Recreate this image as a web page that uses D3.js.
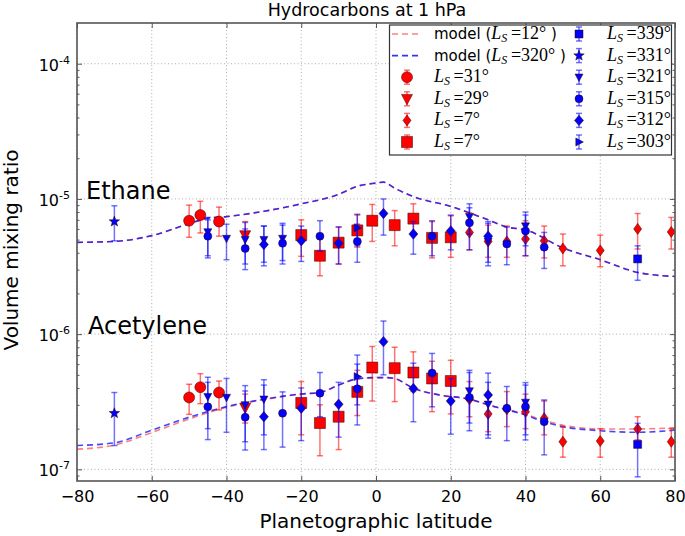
<!DOCTYPE html>
<html><head><meta charset="utf-8">
<script src="https://cdn.jsdelivr.net/npm/d3@7"></script>
<style>body{margin:0;background:#fff}svg{display:block;font-family:"DejaVu Sans",sans-serif}</style>
</head><body>
<svg id="c" width="685" height="536"></svg>
<script>
// ---------------- data ----------------
const xTicks = [-80,-60,-40,-20,0,20,40,60,80];
const yTicks = [1e-7,1e-6,1e-5,1e-4];
const yTickExp = ['-7','-6','-5','-4'];

// model curves [latitude]
const modelEthLat = [-80,-70,-60,-50,-45,-40,-30,-20,-10,-5,0,2,5,10,20,30,35,40,50,60,70,80];
const modelEthLs12 = [4.77e-6,4.85e-6,5.35e-6,6.56e-6,7.2e-6,7.4e-6,8.1e-6,9.2e-6,1.08e-5,1.24e-5,1.31e-5,1.33e-5,1.2e-5,1.04e-5,8.8e-6,7.0e-6,6.2e-6,5.9e-6,4.34e-6,3.55e-6,2.86e-6,2.67e-6];
const modelEthLs320 = [4.77e-6,4.85e-6,5.35e-6,6.56e-6,7.2e-6,7.4e-6,8.1e-6,9.2e-6,1.08e-5,1.24e-5,1.31e-5,1.33e-5,1.2e-5,1.04e-5,8.8e-6,7.0e-6,6.2e-6,5.9e-6,4.34e-6,3.55e-6,2.86e-6,2.67e-6];
const modelAceLat = [-80,-70,-60,-50,-40,-30,-20,-15,-10,-5,0,3,5,10,17,25,30,40,45,50,60,70,80];
const modelAceLs12 = [1.41e-7,1.51e-7,1.87e-7,2.36e-7,2.88e-7,3.28e-7,3.6e-7,3.7e-7,4.2e-7,4.67e-7,4.77e-7,4.77e-7,4.7e-7,3.98e-7,3.55e-7,3.3e-7,3.0e-7,2.55e-7,2.3e-7,2.12e-7,1.99e-7,1.99e-7,2.03e-7];
const modelAceLs320 = [1.5e-7,1.57e-7,1.95e-7,2.43e-7,2.91e-7,3.3e-7,3.61e-7,3.7e-7,4.2e-7,4.67e-7,4.77e-7,4.77e-7,4.7e-7,3.98e-7,3.55e-7,3.3e-7,3.0e-7,2.52e-7,2.25e-7,2.07e-7,1.93e-7,1.88e-7,1.95e-7];

// observations: [latitude, value, lower, upper]
const ls31E = [[-50,6.9e-6,5.2e-6,9.0e-6],[-47,7.6e-6,5.6e-6,9.6e-6],[-42,6.8e-6,5.3e-6,8.7e-6]];
const ls29E = [[-35,5.4e-6,4.2e-6,6.8e-6]];
const ls7dE = [[25,5.65e-6,4.2e-6,7.9e-6],[30,4.85e-6,3.7e-6,6.4e-6],[35,4.85e-6,3.7e-6,6.3e-6],[40,5.05e-6,3.8e-6,6.9e-6],[45,4.9e-6,3.66e-6,6.3e-6],[50,4.3e-6,3.2e-6,5.5e-6],[60,4.16e-6,3.15e-6,5.4e-6],[70,6.0e-6,4.26e-6,7.8e-6],[79,5.7e-6,4.26e-6,7.3e-6]];
const ls7sE = [[-20,5.4e-6,3.76e-6,7.0e-6],[-15,3.8e-6,2.7e-6,5.1e-6],[-10,4.75e-6,3.3e-6,6.2e-6],[-5,5.85e-6,4.4e-6,7.6e-6],[-1,6.9e-6,4.85e-6,9.1e-6],[5,6.4e-6,4.5e-6,8.2e-6],[10,7.15e-6,5.6e-6,9.2e-6],[15,5.15e-6,3.66e-6,6.8e-6],[20,5.2e-6,3.7e-6,7.5e-6]];
const ls339E = [[70,3.6e-6,2.5e-6,4.5e-6]];
const ls331E = [[-70,6.8e-6,4.9e-6,8.9e-6]];
const ls321E = [[-45,5.7e-6,3.8e-6,7.3e-6],[-40,5.1e-6,3.55e-6,6.5e-6],[-35,5.0e-6,3.3e-6,6.7e-6],[-30,5.0e-6,3.4e-6,6.3e-6],[-25,5.1e-6,3.5e-6,6.6e-6],[25,7.4e-6,5.5e-6,9.2e-6],[30,4.85e-6,3.2e-6,6.6e-6],[40,6.3e-6,4.5e-6,8.0e-6]];
const ls315E = [[-45,5.3e-6,3.66e-6,7.0e-6],[-35,4.3e-6,3.0e-6,6.0e-6],[-25,4.7e-6,3.3e-6,6.4e-6],[-15,5.3e-6,4.1e-6,6.9e-6],[-5,4.85e-6,3.4e-6,6.5e-6],[15,5.3e-6,3.8e-6,6.9e-6],[25,6.65e-6,4.2e-6,8.6e-6],[35,4.65e-6,3.26e-6,6.2e-6],[40,5.8e-6,3.8e-6,7.6e-6],[45,4.4e-6,3.06e-6,5.65e-6]];
const ls312E = [[-30,4.6e-6,3.2e-6,6.3e-6],[-20,4.9e-6,3.45e-6,6.3e-6],[-10,4.7e-6,3.3e-6,6.2e-6],[2,7.8e-6,5.4e-6,1.0e-5],[10,5.5e-6,3.9e-6,6.8e-6],[20,5.8e-6,4.2e-6,7.6e-6],[30,5.3e-6,3.4e-6,6.8e-6]];
const ls303E = [[-5,6.1e-6,4.5e-6,7.7e-6]];

const ls31A = [[-50,3.4e-7,2.55e-7,4.26e-7],[-47,4.05e-7,3.06e-7,5.1e-7],[-42,3.7e-7,2.75e-7,4.5e-7]];
const ls29A = [[-35,2.86e-7,2.2e-7,3.6e-7]];
const ls7dA = [[25,3.3e-7,2.45e-7,4.46e-7],[30,2.57e-7,1.9e-7,3.5e-7],[35,2.78e-7,2.07e-7,3.76e-7],[40,2.67e-7,2.0e-7,3.6e-7],[45,2.39e-7,1.8e-7,3.2e-7],[50,1.6e-7,1.23e-7,2.05e-7],[60,1.62e-7,1.23e-7,2.0e-7],[70,1.99e-7,1.65e-7,2.45e-7],[79,1.6e-7,1.23e-7,2.0e-7]];
const ls7sA = [[-20,3.1e-7,1.8e-7,4.46e-7],[-15,2.2e-7,1.26e-7,3.0e-7],[-10,2.45e-7,1.4e-7,3.08e-7],[-5,3.74e-7,2.5e-7,5.4e-7],[-1,5.66e-7,3.2e-7,8.1e-7],[5,5.6e-7,3.17e-7,8.0e-7],[10,5.2e-7,3.76e-7,7.4e-7],[15,4.7e-7,2.67e-7,6.3e-7],[20,4.5e-7,2.57e-7,6.4e-7]];
const ls339A = [[70,1.53e-7,8.8e-8,2.19e-7]];
const ls331A = [[-70,2.6e-7,1.5e-7,3.7e-7]];
const ls321A = [[-45,3.45e-7,2.0e-7,4.8e-7],[-40,3.4e-7,1.88e-7,4.7e-7],[-35,3.0e-7,1.6e-7,4.16e-7],[-30,3.3e-7,1.8e-7,4.6e-7],[25,3.8e-7,2.2e-7,5.4e-7],[30,3.03e-7,1.8e-7,4.4e-7],[40,3.13e-7,1.8e-7,4.38e-7]];
const ls315A = [[-45,2.9e-7,1.66e-7,4.4e-7],[-35,2.43e-7,1.39e-7,3.8e-7],[-25,2.6e-7,1.46e-7,3.74e-7],[-15,3.66e-7,2.45e-7,5.2e-7],[-5,3.94e-7,2.13e-7,6.0e-7],[15,5.15e-7,2.9e-7,7.2e-7],[25,3.4e-7,1.93e-7,5.2e-7],[35,2.83e-7,1.63e-7,4.1e-7],[40,2.9e-7,1.65e-7,4.2e-7],[45,2.25e-7,1.28e-7,3.26e-7]];
const ls312A = [[-30,2.45e-7,1.4e-7,4.2e-7],[-20,2.83e-7,1.63e-7,4.0e-7],[-10,3.03e-7,1.73e-7,4.4e-7],[2,8.8e-7,5.0e-7,1.25e-6],[10,3.96e-7,2.25e-7,6.1e-7],[20,3.2e-7,1.82e-7,4.7e-7],[30,3.55e-7,1.7e-7,5.15e-7]];
const ls303A = [[-5,4.85e-7,3.0e-7,7.0e-7]];

const modelLs = ['12','320'];

// ---------------- drawing ----------------
const RED = '#ff0000', BLUE = '#0000ff';
const series = [
  {ls:'31',  color:RED,  kind:'circle',   a:5.5,       eth:ls31E,  ace:ls31A},
  {ls:'29',  color:RED,  kind:'triDown',  a:5.5,       eth:ls29E,  ace:ls29A},
  {ls:'7',   color:RED,  kind:'diamond',  a:4, b:5.5,  eth:ls7dE,  ace:ls7dA},
  {ls:'7',   color:RED,  kind:'square',   a:5.5,       eth:ls7sE,  ace:ls7sA},
  {ls:'339', color:BLUE, kind:'square',   a:4,         eth:ls339E, ace:ls339A},
  {ls:'331', color:BLUE, kind:'star',     a:5.5,       eth:ls331E, ace:ls331A},
  {ls:'321', color:BLUE, kind:'triDown',  a:4,         eth:ls321E, ace:ls321A},
  {ls:'315', color:BLUE, kind:'circle',   a:4,         eth:ls315E, ace:ls315A},
  {ls:'312', color:BLUE, kind:'diamond',  a:4.5, b:5.2,eth:ls312E, ace:ls312A},
  {ls:'303', color:BLUE, kind:'triRight', a:4,         eth:ls303E, ace:ls303A}
];

function sym(kind, a, b){
  switch(kind){
    case 'circle': return `M${a},0A${a},${a} 0 1,1 ${-a},0A${a},${a} 0 1,1 ${a},0Z`;
    case 'square': return `M${-a},${-a}H${a}V${a}H${-a}Z`;
    case 'triDown': return `M${-a},${-a*0.8}L${a},${-a*0.8}L0,${a*1.1}Z`;
    case 'triRight': return `M${-a*0.8},${-a}L${-a*0.8},${a}L${a*1.1},0Z`;
    case 'diamond': return `M0,${-b}L${a},0L0,${b}L${-a},0Z`;
    case 'star': {
      let p=[];
      for(let i=0;i<10;i++){
        const r = i%2===0 ? a : a*0.42;
        const ang = -Math.PI/2 + i*Math.PI/5;
        p.push([r*Math.cos(ang), r*Math.sin(ang)]);
      }
      return 'M'+p.map(q=>q[0].toFixed(2)+','+q[1].toFixed(2)).join('L')+'Z';
    }
  }
}

const svg = d3.select('#c');
const L=77, R=675, T=23, B=481;
const x = d3.scaleLinear().domain([-80,80]).range([L,R]);
const y = d3.scaleLog().domain([8.2e-8,2e-4]).range([B,T]);

svg.append('rect').attr('x',0).attr('y',0).attr('width',685).attr('height',536).attr('fill','#fff');

// grid
const grid = svg.append('g').attr('stroke','#999').attr('stroke-width',0.8).attr('stroke-dasharray','1,2.5');
grid.selectAll('.gx').data(xTicks).join('line').attr('x1',d=>x(d)).attr('x2',d=>x(d)).attr('y1',T).attr('y2',B);
grid.selectAll('.gy').data(yTicks).join('line').attr('x1',L).attr('x2',R).attr('y1',d=>y(d)).attr('y2',d=>y(d));

// model curves
const plotG = svg.append('g');
plotG.append('clipPath').attr('id','clip').append('rect').attr('x',L).attr('y',T).attr('width',R-L).attr('height',B-T);
const lineGen = d3.line().x(d=>x(d[0])).y(d=>y(d[1])).curve(d3.curveMonotoneX);
const curves = plotG.append('g').attr('clip-path','url(#clip)');
function drawModel(lat, vals, color, op){
  curves.append('path').attr('d', lineGen(lat.map((l,i)=>[l,vals[i]])))
    .attr('fill','none').attr('stroke',color).attr('stroke-opacity',op)
    .attr('stroke-width',1.6).attr('stroke-dasharray','6,4');
}
drawModel(modelEthLat, modelEthLs12, RED, 0.5);
drawModel(modelAceLat, modelAceLs12, RED, 0.5);
drawModel(modelEthLat, modelEthLs320, BLUE, 0.72);
drawModel(modelAceLat, modelAceLs320, BLUE, 0.72);

// error bars + markers
const pts = plotG.append('g');
function drawSeries(s, data){
  const g = pts.append('g');
  const eb = g.append('g').attr('stroke',s.color).attr('stroke-opacity',0.55).attr('stroke-width',1.5);
  data.forEach(d=>{
    const cx = x(d[0]);
    eb.append('line').attr('x1',cx).attr('x2',cx).attr('y1',y(d[2])).attr('y2',y(d[3]));
    eb.append('line').attr('x1',cx-3).attr('x2',cx+3).attr('y1',y(d[2])).attr('y2',y(d[2]));
    eb.append('line').attr('x1',cx-3).attr('x2',cx+3).attr('y1',y(d[3])).attr('y2',y(d[3]));
  });
  g.selectAll('path').data(data).join('path')
    .attr('d', sym(s.kind, s.a, s.b))
    .attr('transform', d=>`translate(${x(d[0])},${y(d[1])})`)
    .attr('fill', s.color).attr('stroke','#300').attr('stroke-width',0.5);
}
series.forEach(s=>{ drawSeries(s, s.eth); drawSeries(s, s.ace); });

// axes
const spine = '#555';
function styleAxis(g){ g.attr('color',spine); g.select('.domain').remove(); g.selectAll('.tick line').attr('stroke-width',1); }
svg.append('g').attr('transform',`translate(0,${B})`)
  .call(d3.axisBottom(x).tickValues(xTicks).tickSizeInner(-5).tickSizeOuter(0).tickPadding(10))
  .call(styleAxis)
  .call(g=>g.selectAll('text').attr('fill','#000').attr('font-size',16).attr('font-family','DejaVu Sans'));
svg.append('g').attr('transform',`translate(0,${T})`)
  .call(d3.axisTop(x).tickValues(xTicks).tickSizeInner(-5).tickSizeOuter(0).tickFormat(()=>''))
  .call(styleAxis);

const minor = [];
for(let e=-8;e<=-4;e++) for(let k=2;k<=9;k++){ const v=k*Math.pow(10,e); if(v>8.2e-8 && v<2e-4) minor.push(v); }
svg.append('g').attr('transform',`translate(${L},0)`)
  .call(d3.axisLeft(y).tickValues(yTicks).tickSizeInner(-5).tickSizeOuter(0).tickPadding(7))
  .call(styleAxis)
  .call(g=>g.selectAll('.tick text').each(function(d,i){
      const t=d3.select(this); t.text(null).attr('fill','#000').attr('font-size',16).attr('font-family','DejaVu Sans').attr('dy','0.4em');
      t.append('tspan').text('10');
      t.append('tspan').attr('dy',-7).attr('font-size',11).text(yTickExp[i]);
  }));
svg.append('g').attr('transform',`translate(${L},0)`)
  .call(d3.axisLeft(y).tickValues(minor).tickSizeInner(-2.5).tickSizeOuter(0).tickFormat(()=>''))
  .call(styleAxis);
svg.append('g').attr('transform',`translate(${R},0)`)
  .call(d3.axisRight(y).tickValues(yTicks).tickSizeInner(-5).tickSizeOuter(0).tickFormat(()=>''))
  .call(styleAxis);
svg.append('g').attr('transform',`translate(${R},0)`)
  .call(d3.axisRight(y).tickValues(minor).tickSizeInner(-2.5).tickSizeOuter(0).tickFormat(()=>''))
  .call(styleAxis);

svg.append('rect').attr('x',L).attr('y',T).attr('width',R-L).attr('height',B-T)
  .attr('fill','none').attr('stroke',spine).attr('stroke-width',1.6);

// texts
svg.append('text').attr('x',367).attr('y',16).attr('text-anchor','middle').attr('font-size',17.5).text('Hydrocarbons at 1 hPa');
svg.append('text').attr('x',376).attr('y',528).attr('text-anchor','middle').attr('font-size',20).text('Planetographic latitude');
svg.append('text').attr('transform','translate(18,250) rotate(-90)').attr('text-anchor','middle').attr('font-size',20).text('Volume mixing ratio');
svg.append('text').attr('x',86).attr('y',199).attr('font-size',24).text('Ethane');
svg.append('text').attr('x',88).attr('y',334).attr('font-size',24).text('Acetylene');

// legend
const lg = svg.append('g');
lg.append('rect').attr('x',389.5).attr('y',25).attr('width',282).attr('height',130)
  .attr('fill','#fff').attr('stroke','#333').attr('stroke-width',1.2);
const rowY = i => 34 + i*21.6;
function mathLabel(t, lsv, prefix){
  const serif = 'Liberation Serif, DejaVu Serif, serif';
  if(prefix){ t.append('tspan').attr('font-family','DejaVu Sans').attr('font-size',15).text(prefix); }
  t.append('tspan').attr('font-family',serif).attr('font-style','italic').attr('font-size',18).text('L');
  t.append('tspan').attr('font-family',serif).attr('font-style','italic').attr('font-size',12).attr('dy',3).text('S');
  t.append('tspan').attr('font-family',serif).attr('font-size',18).attr('dy',-3).text('\u2009=' + lsv + '°');
  if(prefix){ t.append('tspan').attr('font-family','DejaVu Sans').attr('font-size',15).text(' )'); }
}
// model entries
[[RED,0.5],[BLUE,0.8]].forEach((c,i)=>{
  const yy = rowY(i);
  lg.append('line').attr('x1',392).attr('x2',422).attr('y1',yy).attr('y2',yy)
    .attr('stroke',c[0]).attr('stroke-opacity',c[1]).attr('stroke-width',1.6).attr('stroke-dasharray','6,4');
  mathLabel(lg.append('text').attr('x',434).attr('y',yy+5), modelLs[i], 'model (');
});
// series entries
series.forEach((s,i)=>{
  const col = i<4 ? 0 : 1;
  const row = i<4 ? i+2 : i-4;
  const cx = col===0 ? 407 : 579, yy = rowY(row);
  const eb = lg.append('g').attr('stroke',s.color).attr('stroke-opacity',0.55).attr('stroke-width',1.5);
  eb.append('line').attr('x1',cx).attr('x2',cx).attr('y1',yy-7).attr('y2',yy+7);
  eb.append('line').attr('x1',cx-3).attr('x2',cx+3).attr('y1',yy-7).attr('y2',yy-7);
  eb.append('line').attr('x1',cx-3).attr('x2',cx+3).attr('y1',yy+7).attr('y2',yy+7);
  lg.append('path').attr('d',sym(s.kind,s.a,s.b)).attr('transform',`translate(${cx},${yy})`)
    .attr('fill',s.color).attr('stroke','#300').attr('stroke-width',0.5);
  mathLabel(lg.append('text').attr('x', col===0 ? 434 : 607).attr('y',yy+5), s.ls, null);
});
</script>
</body></html>
